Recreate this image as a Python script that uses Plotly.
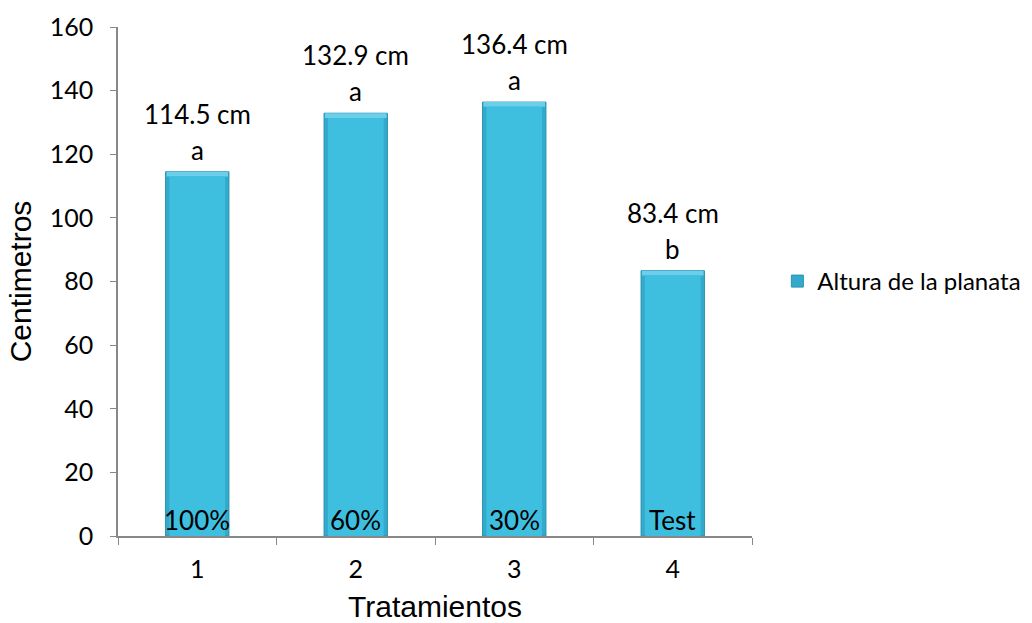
import plotly.graph_objects as go

# Plant height per treatment
tratamientos = ["1", "2", "3", "4"]
altura = [114.5, 132.9, 136.4, 83.4]
grupos = ["a", "a", "a", "b"]
dosis = ["100%", "60%", "30%", "Test"]
y_ticks = [0, 20, 40, 60, 80, 100, 120, 140, 160]

FONT_LABEL = "Lato, Calibri, sans-serif"
FONT_TITLE = "Liberation Sans, Arial, sans-serif"

BAR_W = 0.4
BEVEL = 1.5  # axis units of the bevelled rim at the top of each bar

fig = go.Figure()

# outer bar (darker rim on the sides)
fig.add_trace(go.Bar(
    x=tratamientos, y=altura, width=BAR_W,
    marker=dict(color="#33a9cb", line=dict(color="#2b93b3", width=1)),
    name="Altura de la planata", showlegend=True,
))
# lighter bevel along the top edge
fig.add_trace(go.Bar(
    x=tratamientos, y=[BEVEL] * len(altura), base=[v - BEVEL for v in altura],
    width=BAR_W * 0.97,
    marker=dict(color="#6ccfea", line=dict(width=0)),
    showlegend=False, hoverinfo="skip",
))
# inner face
fig.add_trace(go.Bar(
    x=tratamientos, y=[v - BEVEL for v in altura], width=BAR_W * 0.88,
    marker=dict(color="#3ebfe0", line=dict(width=0)),
    showlegend=False, hoverinfo="skip",
))

annotations = []
for i, (v, g, d) in enumerate(zip(altura, grupos, dosis)):
    annotations.append(dict(x=i, y=v, text=g, showarrow=False,
                            yanchor="bottom", yshift=4,
                            font=dict(family=FONT_LABEL, size=26, color="#000")))
    annotations.append(dict(x=i, y=v, text=f"{v} cm", showarrow=False,
                            yanchor="bottom", yshift=40,
                            font=dict(family=FONT_LABEL, size=26, color="#000")))
    annotations.append(dict(x=i, y=0, text=d, showarrow=False,
                            yanchor="bottom", yshift=-2,
                            font=dict(family=FONT_LABEL, size=26, color="#000")))

fig.update_layout(
    width=1032, height=623,
    margin=dict(l=118, r=280, t=27, b=87, autoexpand=False),
    paper_bgcolor="white", plot_bgcolor="white",
    barmode="overlay",
    annotations=annotations,
    legend=dict(x=1.04, y=0.5, xanchor="left", yanchor="middle",
                font=dict(family=FONT_LABEL, size=24, color="#000"),
                itemwidth=30, traceorder="normal"),
    xaxis=dict(
        type="category", tickson="boundaries", ticks="outside", ticklen=7,
        tickcolor="#888", showline=True, linecolor="#888", linewidth=1.5,
        showgrid=False, ticklabelstandoff=10, automargin=False,
        tickfont=dict(family=FONT_LABEL, size=25, color="#000"),
        title=dict(text="Tratamientos", standoff=18,
                   font=dict(family=FONT_TITLE, size=30, color="#000")),
    ),
    yaxis=dict(
        range=[0, 160], tickvals=y_ticks, ticks="outside", ticklen=6,
        tickcolor="#888", showline=True, linecolor="#888", linewidth=1.5,
        showgrid=False, zeroline=False, ticklabelstandoff=12, automargin=False,
        tickfont=dict(family=FONT_LABEL, size=25, color="#000"),
        title=dict(text="Centimetros", standoff=9,
                   font=dict(family=FONT_TITLE, size=30, color="#000")),
    ),
)

fig.write_html("out.html")
